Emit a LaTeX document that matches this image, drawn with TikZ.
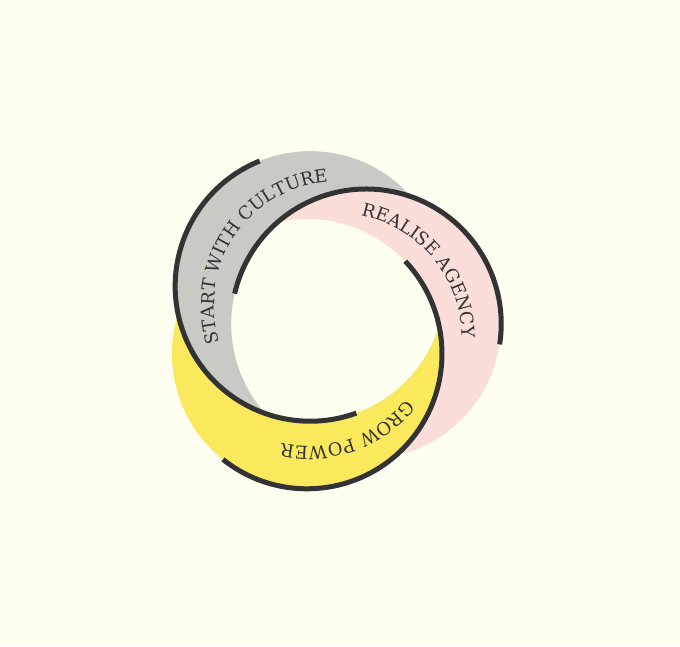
\documentclass[tikz,border=0pt]{standalone}
\usepackage{fontspec}
\newfontfamily\bandfont{DejaVu Serif}
\usetikzlibrary{decorations.text}
\definecolor{bg}{HTML}{FEFEF0}
\definecolor{graycol}{HTML}{C9C9C6}
\definecolor{pinkcol}{HTML}{FBDEDA}
\definecolor{yellowcol}{HTML}{FAE95C}
\definecolor{ink}{HTML}{333333}
\tikzset{
  ring/.style={draw=ink, line width=5pt, line cap=butt},
  bandtext/.style={decorate, decoration={text along path, text align=center, text color=ink,
      text={|\bandfont\fontsize{18}{20}\selectfont|#1}}}
}
\begin{document}
\begin{tikzpicture}[x=1pt,y=1pt]
\fill[bg] (0,0) rectangle (680,646);
\useasboundingbox (0,0) rectangle (680,646);
\def\R{135}
\coordinate (A) at (310.2,359.8);
\coordinate (B) at (366.2,322);
\coordinate (C) at (307,292.2);
\coordinate (MAB) at (338.2,340.9);
\coordinate (MBC) at (336.6,307.1);
\coordinate (MCA) at (308.6,326);
% crescents
\begin{scope}
  \clip (A) circle[radius=\R];
  \fill[graycol, even odd rule] (A) circle[radius=\R] (B) circle[radius=\R];
\end{scope}
\begin{scope}
  \clip (B) circle[radius=\R];
  \fill[pinkcol, even odd rule] (B) circle[radius=\R] (C) circle[radius=\R];
\end{scope}
\begin{scope}
  \clip (C) circle[radius=\R];
  \fill[yellowcol, even odd rule] (C) circle[radius=\R] (A) circle[radius=\R];
\end{scope}
% dark arcs
\draw[ring] ([shift={(112:\R)}]A) arc[start angle=112, end angle=290, radius=\R];
\draw[ring] ([shift={(-8.7:\R)}]B) arc[start angle=-8.7, end angle=167, radius=\R];
\draw[ring] ([shift={(-128.5:\R)}]C) arc[start angle=-128.5, end angle=43.3, radius=\R];
% texts
\path[bandtext={START WITH CULTURE}] ([shift={(216:124)}]MAB) arc[start angle=216, end angle=76, radius=124];
\path[bandtext={REALISE AGENCY}] ([shift={(109.6:125.5)}]MBC) arc[start angle=109.6, end angle=-30.4, radius=125.5];
\path[bandtext={GROW POWER}] ([shift={(-0.7:126)}]MCA) arc[start angle=-0.7, end angle=-140.7, radius=126];
\end{tikzpicture}
\end{document}
